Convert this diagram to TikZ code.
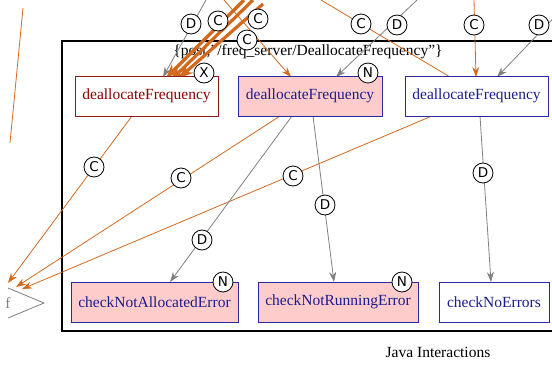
\documentclass[tikz,border=0pt]{standalone}
\usepackage{fontspec}
\setmainfont{Liberation Serif}
\newfontfamily\badgefont{DejaVu Sans}
\usetikzlibrary{arrows.meta}
\definecolor{calledge}{HTML}{D2691E}
\definecolor{depedge}{HTML}{808080}
\definecolor{boxred}{HTML}{8B1A1A}
\definecolor{textred}{HTML}{8B0000}
\definecolor{boxblue}{HTML}{2A2AA0}
\definecolor{textblue}{HTML}{1C1C8C}
\definecolor{boxpink}{HTML}{FFCCCC}
\begin{document}
\begin{tikzpicture}[x=1pt,y=-1pt,
    box/.style={draw,rectangle,minimum height=40pt,inner sep=0pt,line width=0.9pt,
      font=\fontsize{15.5}{18}\selectfont},
    oldbox/.style={box,draw=boxred,fill=white,text=textred},
    newbox/.style={box,draw=boxblue,fill=boxpink,text=textblue},
    keepbox/.style={box,draw=boxblue,fill=white,text=textblue},
    badge/.style={circle,draw,fill=white,inner sep=0pt,minimum size=20pt,line width=0.8pt,
      font=\badgefont\fontsize{13.5}{14}\selectfont},
    calls/.style={draw=calledge,line width=0.8pt,-{Stealth[length=10pt,width=7pt]}},
    bigcalls/.style={draw=calledge,line width=3.2pt,-{Stealth[length=14pt,width=11pt]}},
    deps/.style={draw=depedge,line width=0.8pt,-{Stealth[length=10pt,width=7pt]}}]
  \useasboundingbox (0,0) rectangle (552,365);
  \clip (0,0) rectangle (552,365);
  % cluster
  \draw[line width=1.2pt] (62,41) rectangle (570,331);
  \node[font=\fontsize{15.5}{18}\selectfont] (cluster) at (308,52)
    {\{post,\symbol{34}/freq\_server/DeallocateFrequency\symbol{34}\}};
  \node[font=\fontsize{15.5}{18}\selectfont] (caption) at (438,352) {Java Interactions};
  % the target triangle
  \draw[depedge,line width=0.8pt] (8,288) -- (44,303) -- (8,318);
  \node[text=depedge,font=\fontsize{15.5}{18}\selectfont,anchor=east] (f) at (14,303) {f};
  \coordinate (fin1) at (8,283);
  \coordinate (fin2) at (16,287);
  \coordinate (fin3) at (22,289);
  % free ends above the picture
  \coordinate (topA) at (206,0);
  \coordinate (topB) at (244,0);
  \coordinate (topC) at (253,0);
  \coordinate (topD) at (263,4);
  \coordinate (topE) at (224,0);
  \coordinate (topF) at (321,0);
  \coordinate (topG) at (417,0);
  \coordinate (topH) at (474,0);
  \coordinate (topI) at (571,0);
  \coordinate (farA) at (23,8);
  \coordinate (farB) at (10,143);
  % edges
  \begin{scope}
    \draw[draw=calledge,line width=0.8pt] (farA) -- (farB);
    \draw[deps] (topA) -- (163,77);
    \draw[bigcalls] (topB) -- (166,78);
    \draw[bigcalls] (topC) -- (171,80);
    \draw[bigcalls] (topD) -- (179,78);
    \draw[calls] (topE) -- (291,77);
    \draw[draw=calledge,line width=0.8pt] (topF) -- (450,77);
    \draw[deps] (topG) -- (336,77);
    \draw[calls] (topH) -- (476,77);
    \draw[deps] (topI) -- (497,77);
    \draw[calls] (132,116) -- (fin1);
    \draw[calls] (280,116) -- (fin2);
    \draw[calls] (432,116) -- (fin3);
    \draw[deps] (292,116) -- (170,282);
    \draw[deps] (313,116) -- (334,282);
    \draw[deps] (480,116) -- (491,282);
  \end{scope}
  % boxes
  \node[oldbox,minimum width=143pt] (dealloc1) at (146.5,96) {deallocateFrequency};
  \node[newbox,minimum width=144pt] (dealloc2) at (310,96) {deallocateFrequency};
  \node[keepbox,minimum width=143pt] (dealloc3) at (476.5,96) {deallocateFrequency};
  \node[newbox,minimum width=167pt] (notalloc) at (154.5,302) {checkNotAllocatedError};
  \node[newbox,minimum width=160pt] (notrun) at (338,302) {checkNotRunningError};
  \node[keepbox,minimum width=110pt] (noerr) at (494,302) {checkNoErrors};
  % badges
  \node[badge] (xold) at (204,73) {X};
  \node[badge] (nnew2) at (368,73) {N};
  \node[badge] (nnotalloc) at (223,282) {N};
  \node[badge] (nnotrun) at (402,282) {N};
  % edge labels
  \node[badge] (lblA) at (191,24) {D};
  \node[badge] (lblB) at (218,21) {C};
  \node[badge] (lblC) at (258,19) {C};
  \node[badge] (lblD) at (247,40) {C};
  \node[badge] (lblE) at (361,24) {C};
  \node[badge] (lblF) at (397,25) {D};
  \node[badge] (lblG) at (474,25) {C};
  \node[badge] (lblH) at (539,25) {D};
  \node[badge] (lblI) at (94,167) {C};
  \node[badge] (lblJ) at (181,178) {C};
  \node[badge] (lblK) at (293,176) {C};
  \node[badge] (lblL) at (202,240) {D};
  \node[badge] (lblM) at (325,205) {D};
  \node[badge] (lblN) at (483,173) {D};
\end{tikzpicture}
\end{document}
